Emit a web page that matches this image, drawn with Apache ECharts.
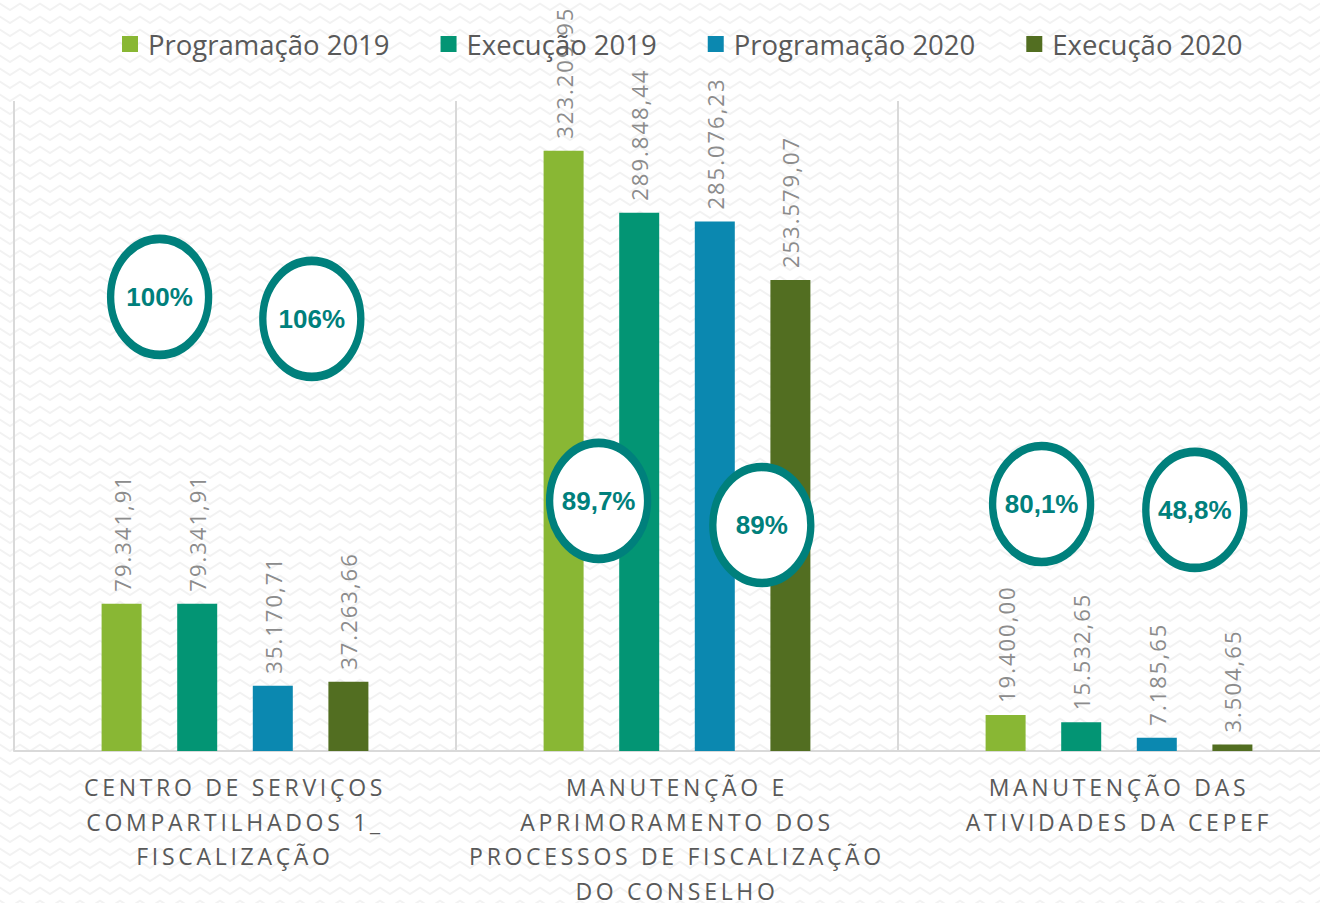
<!DOCTYPE html>
<html>
<head>
<meta charset="utf-8">
<script src="https://cdn.jsdelivr.net/npm/echarts@6/dist/echarts.min.js"></script>
<style>
  html, body { margin: 0; padding: 0; background: #fff; }
  #chart { width: 1320px; height: 903px; }
</style>
</head>
<body>
<div id="chart"></div>
<script>
// categories (eixo x)
const categories = [
  'CENTRO DE SERVIÇOS\nCOMPARTILHADOS 1_\nFISCALIZAÇÃO',
  'MANUTENÇÃO E\nAPRIMORAMENTO DOS\nPROCESSOS DE FISCALIZAÇÃO\nDO CONSELHO',
  'MANUTENÇÃO DAS\nATIVIDADES DA CEPEF',
]
const seriesNames = ['Programação 2019', 'Execução 2019', 'Programação 2020', 'Execução 2020']
const prog2019 = [79341.91, 323209.95, 19400.00]
const exec2019 = [79341.91, 289848.44, 15532.65]
const prog2020 = [35170.71, 285076.23, 7185.65]
const exec2020 = [37263.66, 253579.07, 3504.65]
// percentuais de execução (2019 / 2020 por categoria)
const pct2019 = ['100%', '89,7%', '80,1%']
const pct2020 = ['106%', '89%', '48,8%']

const colors = ['#89b734', '#039574', '#0b88b0', '#526e21']

// fundo com padrão em ziguezague
const pat = document.createElement('canvas')
pat.width = 20
pat.height = 13
const pctx = pat.getContext('2d')
pctx.fillStyle = '#ffffff'
pctx.fillRect(0, 0, 20, 13)
pctx.strokeStyle = '#f2f2f2'
pctx.lineWidth = 2
pctx.beginPath()
pctx.moveTo(-1, 3)
pctx.lineTo(10, 10)
pctx.lineTo(21, 3)
pctx.stroke()
document.getElementById('chart').style.background = 'url(' + pat.toDataURL() + ')'

function fmtBR(v) {
  const parts = v.toFixed(2).split('.')
  return parts[0].replace(/\B(?=(\d{3})+(?!\d))/g, '.') + ',' + parts[1]
}

const ellipse = 'path://M50,0A50,60,0,1,1,50,120A50,60,0,1,1,50,0Z'
// altura (em valor do eixo) e deslocamento horizontal de cada elipse
const ellipseLevel2019 = [244500, 134700, 133000]
const ellipseLevel2020 = [232700, 121700, 129800]
const ellipseShift2019 = [38, 35, 36]
const ellipseShift2020 = [39, 47, 38]

function markPoints(pcts, levels, shifts) {
  return {
    symbol: ellipse,
    symbolSize: [98, 116],
    itemStyle: { color: '#ffffff', borderColor: '#00807c', borderWidth: 8 },
    label: {
      show: true,
      position: 'inside',
      formatter: '{b}',
      color: '#00807c',
      fontFamily: 'Liberation Sans',
      fontWeight: 'bold',
      fontSize: 26,
    },
    animation: false,
    data: pcts.map((p, i) => ({
      name: p,
      coord: [categories[i], levels[i]],
      symbolOffset: [shifts[i], 0],
    })),
  }
}

const chart = echarts.init(document.getElementById('chart'), null, { renderer: 'svg' })

const labelStyle = {
  show: true,
  position: 'top',
  rotate: 90,
  align: 'left',
  verticalAlign: 'middle',
  distance: 12,
  color: '#8c8c8c',
  fontFamily: 'Open Sans',
  fontSize: 22,
  formatter: p => fmtBR(p.value),
}

const seriesData = [prog2019, exec2019, prog2020, exec2020]

chart.setOption({
  backgroundColor: 'transparent',
  animation: false,
  color: colors,
  legend: {
    top: 25,
    left: 117,
    itemWidth: 16,
    itemHeight: 16,
    itemGap: 51,
    icon: 'rect',
    textStyle: { color: '#595959', fontSize: 27.5, fontFamily: 'Open Sans', padding: [0, 0, 0, 5] },
    data: seriesNames,
  },
  grid: {
    left: 14,
    right: -20,
    top: 101,
    bottom: 152,
    outerBoundsMode: 'none',
    containLabel: false,
  },
  xAxis: {
    type: 'category',
    data: categories,
    axisLine: { show: true, lineStyle: { color: '#d9d9d9', width: 2 } },
    axisTick: { show: false },
    splitLine: { show: true, lineStyle: { color: '#d9d9d9', width: 2 } },
    axisLabel: {
      interval: 0,
      margin: 19,
      color: '#595959',
      fontFamily: 'Open Sans',
      fontSize: 23,
      lineHeight: 34.5,
    },
  },
  yAxis: {
    type: 'value',
    min: 0,
    max: 350000,
    show: false,
    splitLine: { show: false },
  },
  series: seriesData.map((d, i) => {
    const s = {
      name: seriesNames[i],
      type: 'bar',
      data: d,
      barWidth: 40,
      barGap: '89%',
      barCategoryGap: '40%',
      label: labelStyle,
    }
    if (i === 0) s.markPoint = markPoints(pct2019, ellipseLevel2019, ellipseShift2019)
    if (i === 2) s.markPoint = markPoints(pct2020, ellipseLevel2020, ellipseShift2020)
    return s
  }),
})

// espaçamento entre letras (rótulos das categorias e dos valores)
function spaceLetters() {
  document.querySelectorAll('#chart svg text').forEach(t => {
    const s = t.textContent
    if (/^[\d.]+,\d\d$/.test(s)) {
      t.setAttribute('letter-spacing', '2px')
    } else if (/^[A-ZÀ-Ý0-9 _]{3,}$/.test(s)) {
      t.setAttribute('letter-spacing', '3.7px')
    }
  })
}
spaceLetters()
chart.on('finished', spaceLetters)
</script>
</body>
</html>
